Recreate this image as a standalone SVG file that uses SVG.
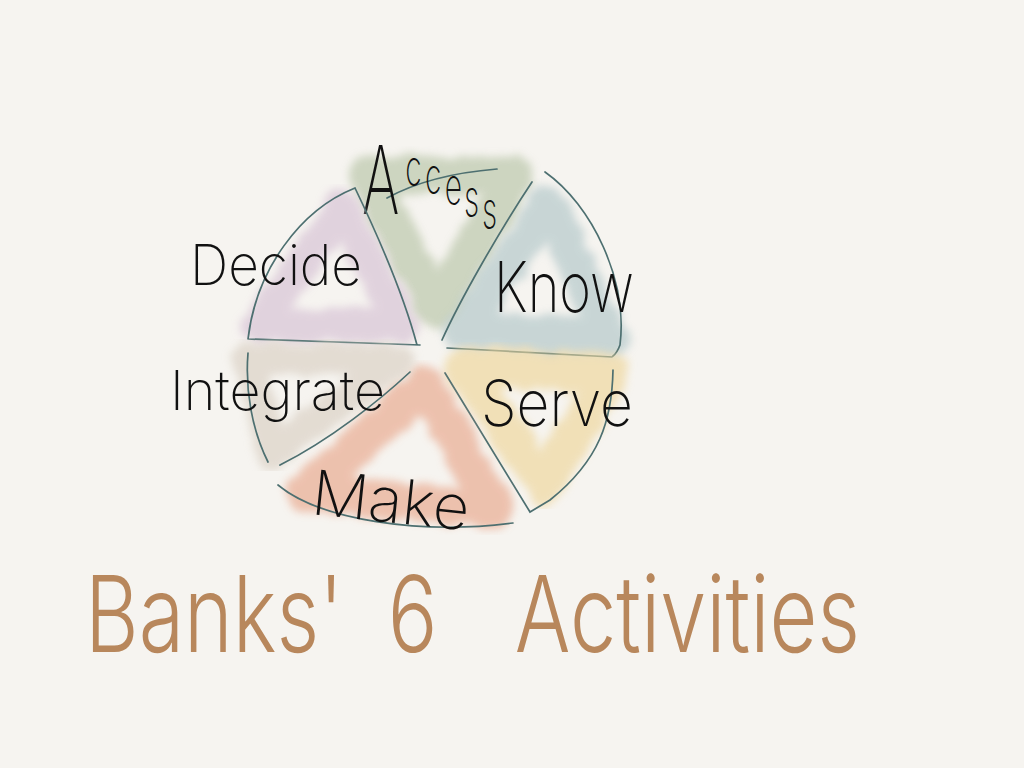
<svg xmlns="http://www.w3.org/2000/svg" width="1024" height="768" viewBox="0 0 1024 768">
  <defs>
    <style>
      .wash { fill: none; stroke-linejoin: round; stroke-linecap: round; opacity: 0.7; filter: url(#wc); }
      .edge { fill: none; stroke: #4d6f70; stroke-width: 1.7; stroke-linecap: round; }
      .lbl { font-family: "Inter", "Liberation Sans", sans-serif; font-weight: 200; fill: #111; }
      .title { font-family: "Inter", "Liberation Sans", sans-serif; font-weight: 300; fill: #b8875c; }
    </style>
    <filter id="wc" x="-20%" y="-20%" width="140%" height="140%">
      <feTurbulence type="fractalNoise" baseFrequency="0.05" numOctaves="3" seed="4" result="n"/>
      <feDisplacementMap in="SourceGraphic" in2="n" scale="14" xChannelSelector="R" yChannelSelector="G" result="d"/>
      <feGaussianBlur in="d" stdDeviation="4"/>
    </filter>
  </defs>

  <rect width="1024" height="768" fill="#f6f4f0"/>

  <g id="sector-access">
    <path class="wash" stroke="#bcc8ac" stroke-width="38" d="M 368 174 L 515 176 L 436 310 Z"/>
    <path class="edge" d="M 387 198 C 420 180 460 172 497 169"/>
    <text class="lbl" transform="translate(362 214) scale(0.6 1)"><tspan x="0" y="0" font-size="95">A</tspan><tspan x="72 105 138 170 200" y="-28 -20 -10 2 14" font-size="50">ccess</tspan></text>
  </g>

  <g id="sector-decide">
    <path class="wash" stroke="#d8c4d6" stroke-width="34" d="M 342 208 L 258 325 L 402 325 Z"/>
    <path class="edge" d="M 355 188 C 300 210 256 270 248 339 M 355 188 C 380 240 405 300 417 345 M 248 339 L 420 345"/>
    <text class="lbl" x="190" y="285" font-size="56" textLength="172" lengthAdjust="spacingAndGlyphs">Decide</text>
  </g>

  <g id="sector-know">
    <path class="wash" stroke="#b5c9cb" stroke-width="38" d="M 548 205 L 462 330 L 610 338 Z"/>
    <path class="edge" d="M 532 182 C 500 230 460 300 442 340 M 545 172 C 592 205 628 280 620 345 Q 617 353 613 356 M 447 348 L 612 357"/>
    <text class="lbl" x="494" y="312" font-size="70" textLength="140" lengthAdjust="spacingAndGlyphs">Know</text>
  </g>

  <g id="sector-serve">
    <path class="wash" stroke="#efd8a0" stroke-width="38" d="M 463 366 L 610 372 L 545 485 Z"/>
    <path class="edge" d="M 445 373 L 530 512 L 550 500 C 600 460 612 420 613 370"/>
    <text class="lbl" x="481" y="426" font-size="64" textLength="152" lengthAdjust="spacingAndGlyphs">Serve</text>
  </g>

  <g id="sector-make">
    <path class="wash" stroke="#e9ac92" stroke-width="38" d="M 425 385 L 305 492 L 495 510 Z"/>
    <path class="edge" d="M 278 485 C 320 520 420 535 513 523"/>
    <text class="lbl" x="310" y="514" font-size="62" textLength="158" lengthAdjust="spacingAndGlyphs" transform="rotate(6 310 514)">Make</text>
  </g>

  <g id="sector-integrate">
    <path class="wash" stroke="#dbd2c6" stroke-width="32" d="M 250 358 L 398 360 L 272 452 Z"/>
    <path class="edge" d="M 248 353 C 245 390 252 430 268 462 M 280 465 C 330 440 380 400 410 372"/>
    <text class="lbl" x="170" y="410" font-size="55" textLength="215" lengthAdjust="spacingAndGlyphs">Integrate</text>
  </g>

  <g id="title">
    <text class="title" font-size="106" transform="translate(85 652) scale(0.78 1)"><tspan x="0" y="0">Banks'</tspan> <tspan x="388" y="0">6</tspan> <tspan x="551" y="0">Activities</tspan></text>
  </g>
</svg>
